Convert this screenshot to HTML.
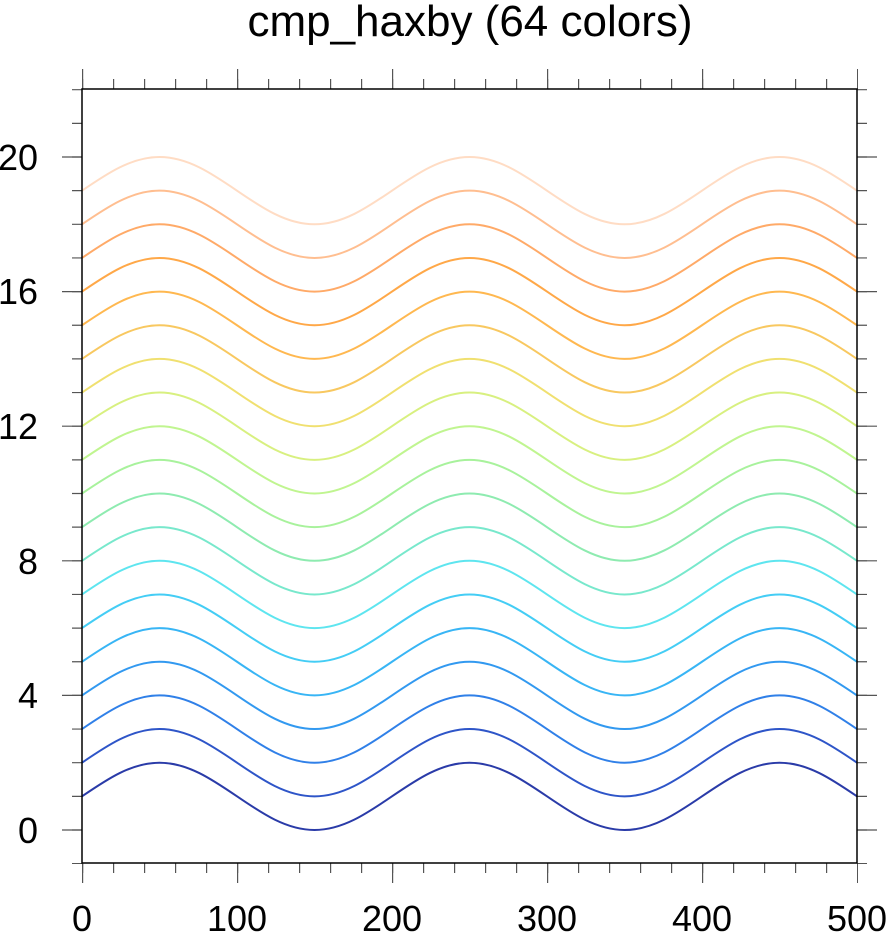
<!DOCTYPE html>
<html><head><style>html,body{margin:0;padding:0;background:#fff;}</style></head>
<body>
<svg width="886" height="935" xmlns="http://www.w3.org/2000/svg" font-family="Liberation Sans, sans-serif">
<defs>
<path id="w" fill="none" d="M82,0 c25.275,-17.239 49.45,-33.65 77.5,-33.65 c28.05,0 52.225,16.411 77.5,33.65 c25.275,17.239 49.45,33.65 77.5,33.65 c28.05,0 52.225,-16.411 77.5,-33.65 c25.275,-17.239 49.45,-33.65 77.5,-33.65 c28.05,0 52.225,16.411 77.5,33.65 c25.275,17.239 49.45,33.65 77.5,33.65 c28.05,0 52.225,-16.411 77.5,-33.65 c25.275,-17.239 49.45,-33.65 77.5,-33.65 c28.05,0 52.225,16.411 77.5,33.65"/>
</defs>
<text x="470" y="36" font-size="44" text-anchor="middle">cmp_haxby (64 colors)</text>
<g stroke="#555" fill="none">
<line x1="82" y1="868" x2="858" y2="868" stroke-width="10" stroke-dasharray="1.2 29.8"/>
<line x1="82" y1="873" x2="858" y2="873" stroke-width="20" stroke-dasharray="1.2 153.8"/>
<line x1="82" y1="84" x2="858" y2="84" stroke-width="10" stroke-dasharray="1.2 29.8"/>
<line x1="82" y1="79" x2="858" y2="79" stroke-width="20" stroke-dasharray="1.2 153.8"/>
<line x1="77" y1="89.1" x2="77" y2="864" stroke-width="10" stroke-dasharray="1.2 32.45"/>
<line x1="72" y1="156.4" x2="72" y2="832" stroke-width="20" stroke-dasharray="1.2 133.4"/>
<line x1="862" y1="89.1" x2="862" y2="864" stroke-width="10" stroke-dasharray="1.2 32.45"/>
<line x1="867" y1="156.4" x2="867" y2="832" stroke-width="20" stroke-dasharray="1.2 133.4"/>
</g>
<g stroke-width="2" fill="none">
<use href="#w" transform="translate(0,796.35)" stroke="#2a3ba8"/>
<use href="#w" transform="translate(0,762.7)" stroke="#2e55c8"/>
<use href="#w" transform="translate(0,729.05)" stroke="#3080e8"/>
<use href="#w" transform="translate(0,695.4)" stroke="#3299f0"/>
<use href="#w" transform="translate(0,661.75)" stroke="#38b5f5"/>
<use href="#w" transform="translate(0,628.1)" stroke="#44cdf5"/>
<use href="#w" transform="translate(0,594.45)" stroke="#5ee5ef"/>
<use href="#w" transform="translate(0,560.8)" stroke="#78e8cc"/>
<use href="#w" transform="translate(0,527.15)" stroke="#8eebb0"/>
<use href="#w" transform="translate(0,493.5)" stroke="#a8f29c"/>
<use href="#w" transform="translate(0,459.85)" stroke="#c0f590"/>
<use href="#w" transform="translate(0,426.2)" stroke="#d8f080"/>
<use href="#w" transform="translate(0,392.55)" stroke="#f0e070"/>
<use href="#w" transform="translate(0,358.9)" stroke="#f8c860"/>
<use href="#w" transform="translate(0,325.25)" stroke="#ffb850"/>
<use href="#w" transform="translate(0,291.6)" stroke="#ffa848"/>
<use href="#w" transform="translate(0,257.95)" stroke="#ffaa68"/>
<use href="#w" transform="translate(0,224.3)" stroke="#ffbe90"/>
<use href="#w" transform="translate(0,190.65)" stroke="#ffdcc4"/>
</g>
<rect x="82" y="89" width="775" height="774" fill="none" stroke="#000" stroke-width="1.5"/>
<g font-size="36" text-anchor="end">
<text x="38" y="843">0</text>
<text x="38" y="708">4</text>
<text x="38" y="574">8</text>
<text x="38" y="439">12</text>
<text x="38" y="304">16</text>
<text x="38" y="170">20</text>
</g>
<g font-size="36" text-anchor="middle">
<text x="82" y="931">0</text>
<text x="237" y="931">100</text>
<text x="392" y="931">200</text>
<text x="547" y="931">300</text>
<text x="702" y="931">400</text>
<text x="857" y="931">500</text>
</g>
</svg>
</body></html>
